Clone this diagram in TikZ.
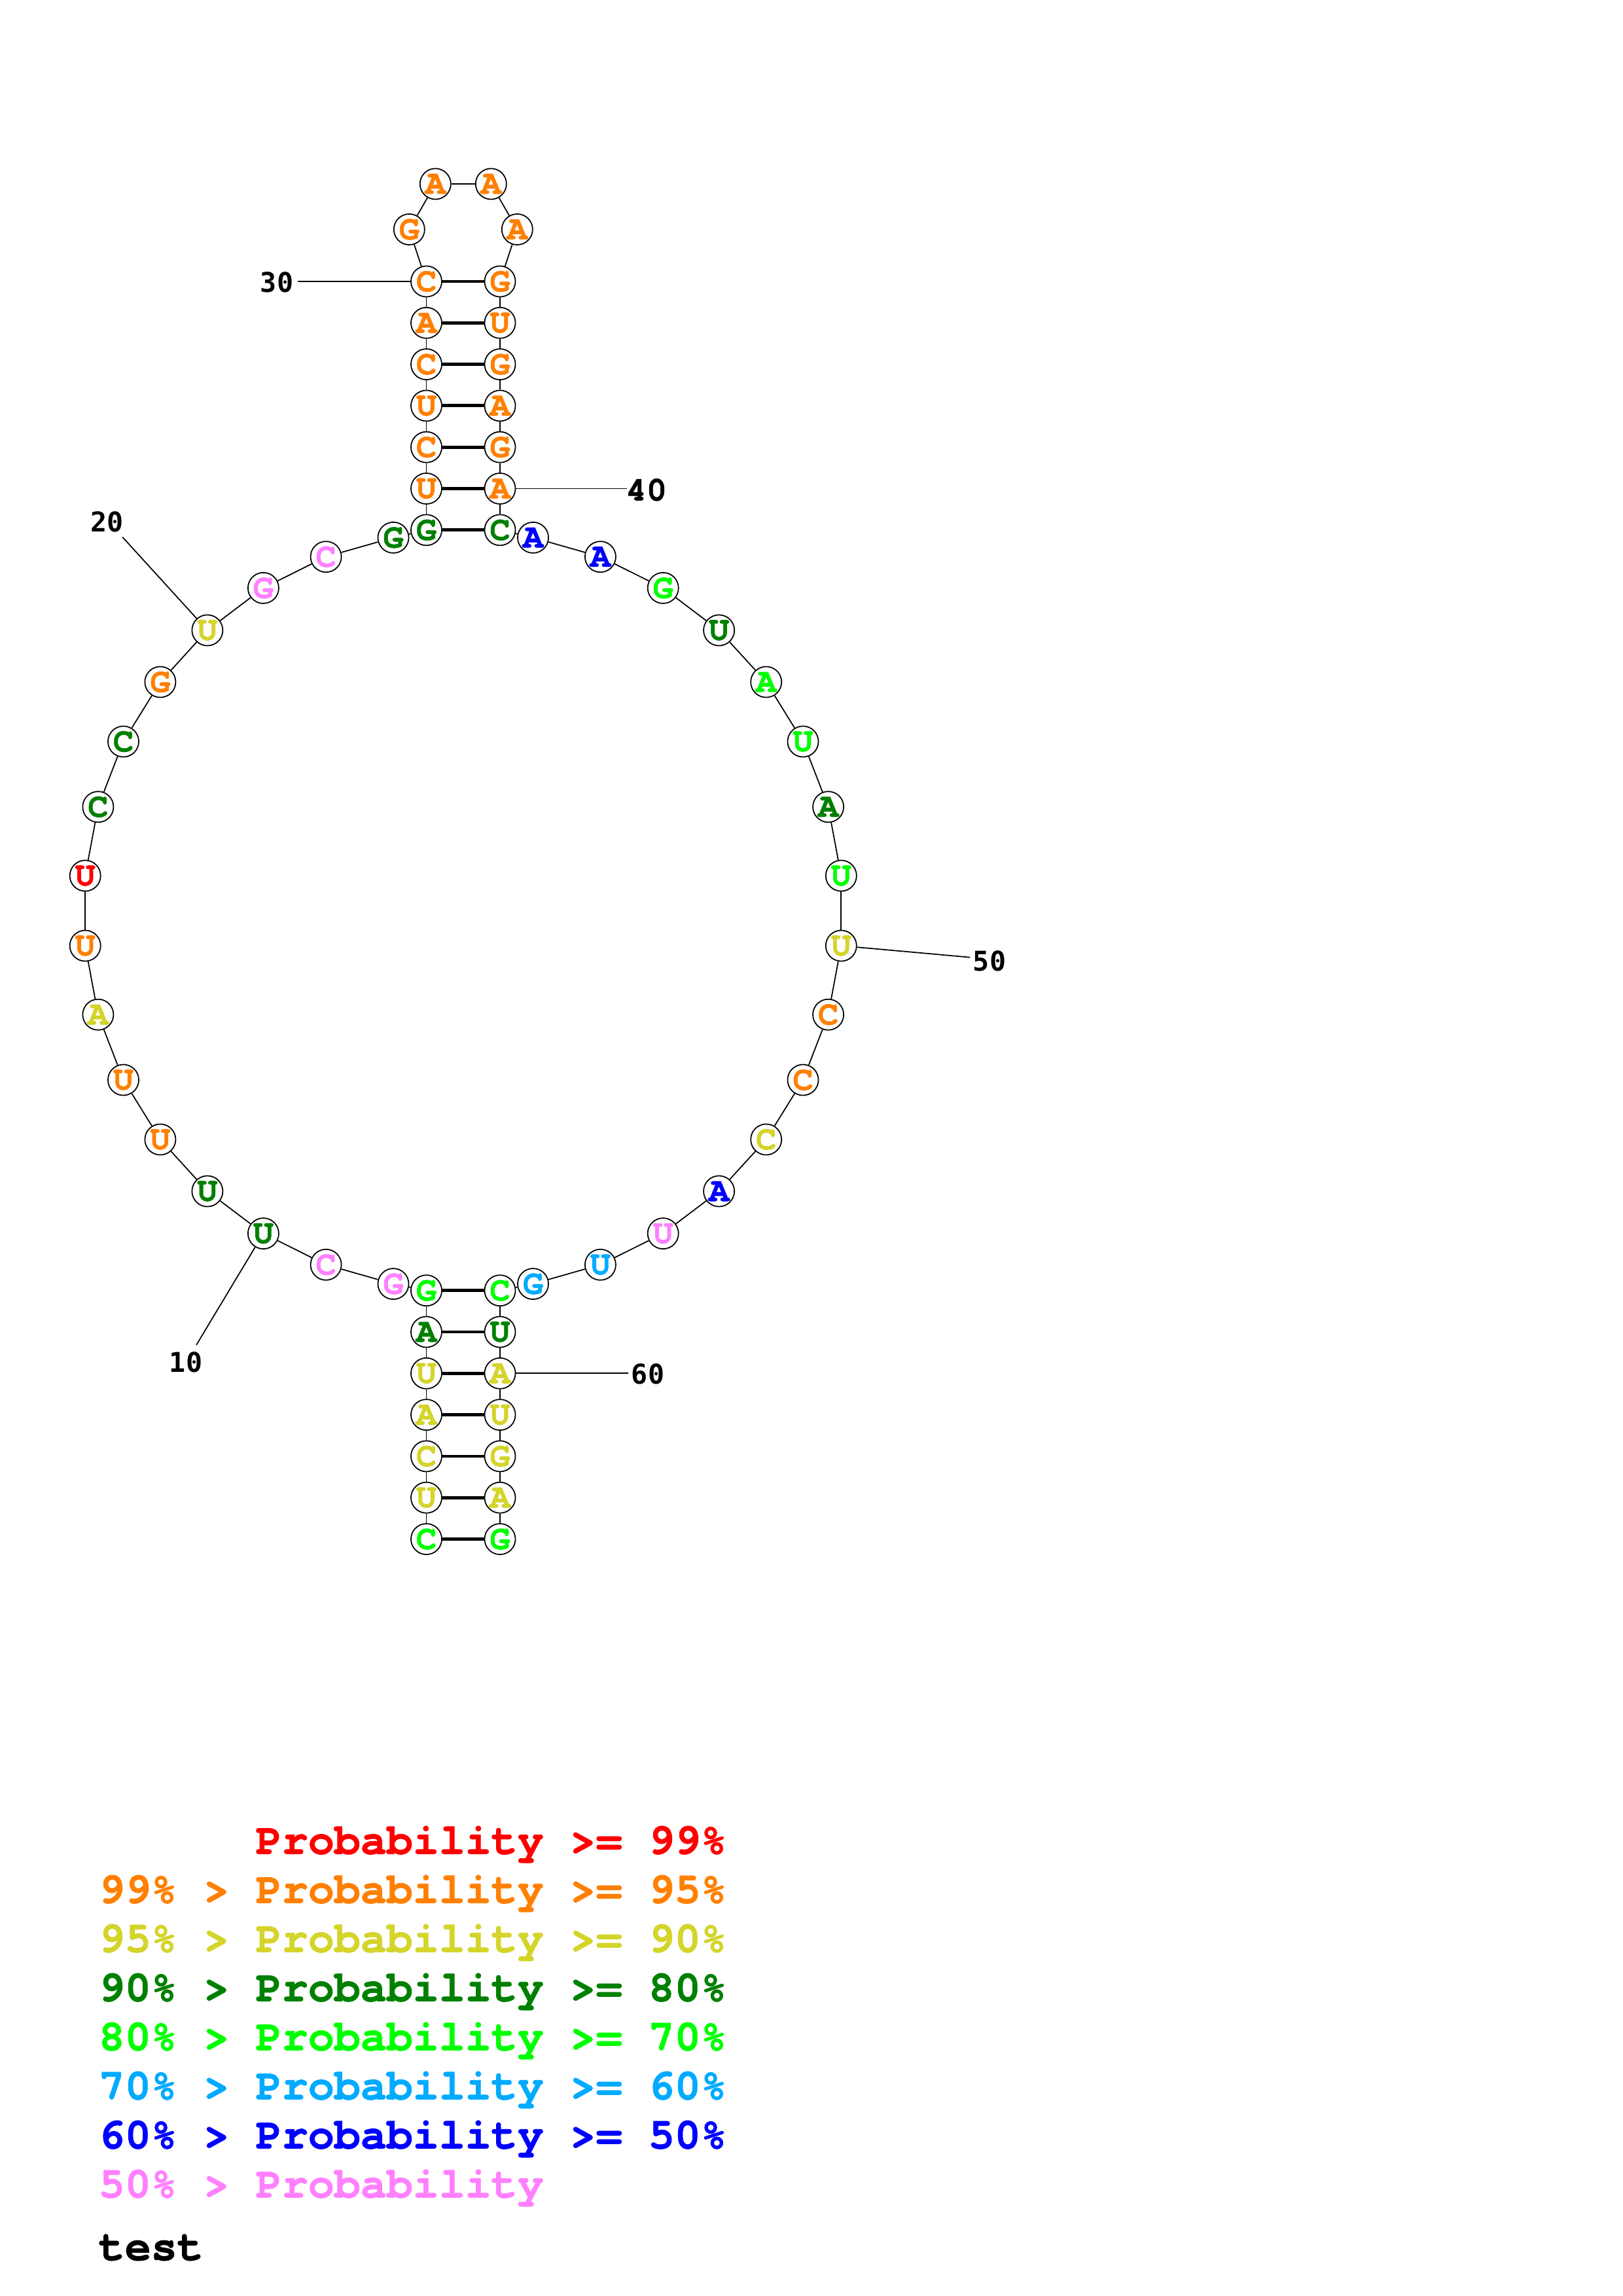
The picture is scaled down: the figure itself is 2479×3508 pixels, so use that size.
\documentclass[tikz,border=0pt]{standalone}
\usepackage{fontspec}
\setmonofont{TeX Gyre Cursor}[BoldFeatures={FakeBold=1.2}]
\newfontfamily\dvsm{DejaVu Sans Mono}
\definecolor{cRed}{RGB}{255,0,0}
\definecolor{cOrange}{RGB}{255,128,0}
\definecolor{cYellow}{RGB}{212,212,42}
\definecolor{cDkGreen}{RGB}{0,128,0}
\definecolor{cLime}{RGB}{0,255,0}
\definecolor{cLtBlue}{RGB}{0,170,255}
\definecolor{cBlue}{RGB}{0,0,255}
\definecolor{cPink}{RGB}{255,128,255}
\tikzset{
  nt/.style={circle, draw=black, line width=0.42pt, fill=white, minimum size=11.3pt, inner sep=0pt,
    font=\ttfamily\bfseries\fontsize{12.5}{12.5}\selectfont},
  R/.style={nt, text=cRed}, O/.style={nt, text=cOrange}, Y/.style={nt, text=cYellow},
  D/.style={nt, text=cDkGreen}, L/.style={nt, text=cLime}, T/.style={nt, text=cLtBlue},
  B/.style={nt, text=cBlue}, P/.style={nt, text=cPink},
  bb/.style={draw=black, line width=0.42pt},
  pb/.style={draw=black, line width=1.15pt},
  lab/.style={inner sep=0pt, font=\dvsm\bfseries\fontsize{10}{10}\selectfont},
  labc/.style={inner sep=0pt, font=\ttfamily\bfseries\fontsize{12.5}{12.5}\selectfont},
  leg/.style={inner sep=0pt, anchor=base west, font=\ttfamily\bfseries\fontsize{16}{16}\selectfont}
}
\begin{document}
\begin{tikzpicture}[x=0.24pt, y=-0.24pt]
\useasboundingbox (0,0) rectangle (2479,3508);
% nodes
\node[L] (n1) at (651.5,2351.5) {C};
\node[Y] (n2) at (651.5,2288.2) {U};
\node[Y] (n3) at (651.5,2224.9) {C};
\node[Y] (n4) at (651.5,2161.6) {A};
\node[Y] (n5) at (651.5,2098.3) {U};
\node[D] (n6) at (651.5,2035) {A};
\node[L] (n7) at (651.5,1971.7) {G};
\node[P] (n8) at (601.0,1961.6) {G};
\node[P] (n9) at (498.1,1932.3) {C};
\node[D] (n10) at (402.4,1884.6) {U};
\node[D] (n11) at (316.9,1820.0) {U};
\node[O] (n12) at (244.9,1741.0) {U};
\node[O] (n13) at (188.5,1650.0) {U};
\node[Y] (n14) at (149.9,1550.2) {A};
\node[O] (n15) at (130.2,1445.0) {U};
\node[R] (n16) at (130.2,1338.0) {U};
\node[D] (n17) at (149.9,1232.8) {C};
\node[D] (n18) at (188.5,1133.0) {C};
\node[O] (n19) at (244.9,1042.0) {G};
\node[Y] (n20) at (316.9,963.0) {U};
\node[P] (n21) at (402.4,898.4) {G};
\node[P] (n22) at (498.1,850.7) {C};
\node[D] (n23) at (601.0,821.4) {G};
\node[D] (n24) at (651.5,809.8) {G};
\node[O] (n25) at (651.5,746.5) {U};
\node[O] (n26) at (651.5,683.2) {C};
\node[O] (n27) at (651.5,619.9) {U};
\node[O] (n28) at (651.5,556.6) {C};
\node[O] (n29) at (651.5,493.3) {A};
\node[O] (n30) at (651.5,430) {C};
\node[O] (n31) at (625.3,350.5) {G};
\node[O] (n32) at (665.3,281) {A};
\node[O] (n33) at (750.3,281) {A};
\node[O] (n34) at (790.3,350.5) {A};
\node[O] (n35) at (764,430) {G};
\node[O] (n36) at (764,493.3) {U};
\node[O] (n37) at (764,556.6) {G};
\node[O] (n38) at (764,619.9) {A};
\node[O] (n39) at (764,683.2) {G};
\node[O] (n40) at (764,746.5) {A};
\node[D] (n41) at (764,809.8) {C};
\node[B] (n42) at (814.5,821.4) {A};
\node[B] (n43) at (917.4,850.7) {A};
\node[L] (n44) at (1013.2,898.4) {G};
\node[D] (n45) at (1098.6,963.0) {U};
\node[L] (n46) at (1170.7,1042.0) {A};
\node[L] (n47) at (1227.0,1133.0) {U};
\node[D] (n48) at (1265.6,1232.8) {A};
\node[L] (n49) at (1285.3,1338.0) {U};
\node[Y] (n50) at (1285.3,1445.0) {U};
\node[O] (n51) at (1265.6,1550.2) {C};
\node[O] (n52) at (1227.0,1650.0) {C};
\node[Y] (n53) at (1170.7,1741.0) {C};
\node[B] (n54) at (1098.6,1820.0) {A};
\node[P] (n55) at (1013.2,1884.6) {U};
\node[T] (n56) at (917.4,1932.3) {U};
\node[T] (n57) at (814.5,1961.6) {G};
\node[L] (n58) at (764,1971.7) {C};
\node[D] (n59) at (764,2035) {U};
\node[Y] (n60) at (764,2098.3) {A};
\node[Y] (n61) at (764,2161.6) {U};
\node[Y] (n62) at (764,2224.9) {G};
\node[Y] (n63) at (764,2288.2) {A};
\node[L] (n64) at (764,2351.5) {G};
% backbone
\foreach \i [evaluate=\i as \j using int(\i+1)] in {1,...,63}
  \draw[bb] (n\i) -- (n\j);
% base pairs
\foreach \a/\b in {1/64,2/63,3/62,4/61,5/60,6/59,7/58,24/41,25/40,26/39,27/38,28/37,29/36,30/35}
  \draw[pb] (n\a) -- (n\b);
% position labels
\coordinate (e10) at (300,2055);
\coordinate (e20) at (187.3,820.7);
\coordinate (e30) at (455,430);
\coordinate (e40) at (958.3,746.5);
\coordinate (e50) at (1482.3,1462.7);
\coordinate (e60) at (960,2098.3);
\draw[bb] (n10) -- (e10);
\draw[bb] (n20) -- (e20);
\draw[bb] (n30) -- (e30);
\draw[bb] (n40) -- (e40);
\draw[bb] (n50) -- (e50);
\draw[bb] (n60) -- (e60);
\node[lab] (l10) at (284,2081) {10};
\node[lab] (l20) at (163.3,797.8) {20};
\node[lab] (l30) at (423,431.7) {30};
\node[labc] (l40) at (987.8,748.3) {40};
\node[lab] (l50) at (1512,1468) {50};
\node[lab] (l60) at (990,2099.5) {60};
% legend
\node[leg, text=cRed] (g1) at (150,2832.4) {~~~~~~Probability~>=~99\%};
\node[leg, text=cOrange] (g2) at (150,2907.4) {99\%~>~Probability~>=~95\%};
\node[leg, text=cYellow] (g3) at (150,2982.4) {95\%~>~Probability~>=~90\%};
\node[leg, text=cDkGreen] (g4) at (150,3057.4) {90\%~>~Probability~>=~80\%};
\node[leg, text=cLime] (g5) at (150,3132.4) {80\%~>~Probability~>=~70\%};
\node[leg, text=cLtBlue] (g6) at (150,3207.4) {70\%~>~Probability~>=~60\%};
\node[leg, text=cBlue] (g7) at (150,3282.4) {60\%~>~Probability~>=~50\%};
\node[leg, text=cPink] (g8) at (150,3357.4) {50\%~>~Probability};
\node[leg, text=black] (gt) at (150,3453) {test};
\end{tikzpicture}
\end{document}
